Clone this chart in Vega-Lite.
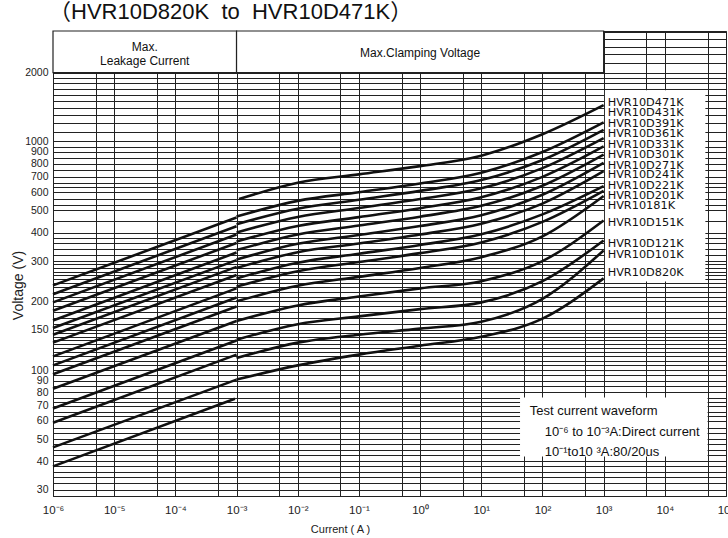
{
  "$schema": "https://vega.github.io/schema/vega-lite/v6.json",
  "width": 673,
  "height": 465,
  "autosize": {"type": "none"},
  "padding": {"left": 53, "top": 31, "right": 2, "bottom": 42},
  "background": "white",
  "title": {"text": "（HVR10D820K\u00a0\u00a0to\u00a0\u00a0HVR10D471K）", "anchor": "start", "frame": "group", "fontSize": 22, "fontWeight": "normal", "font": "Liberation Sans, Noto Sans CJK SC", "color": "#111", "offset": 3, "dx": -4},
  "config": {
    "font": "Liberation Sans",
    "view": {"stroke": "#222", "strokeWidth": 1},
    "axis": {"gridColor": "#222", "gridOpacity": 1, "gridWidth": 1, "domainColor": "#222", "ticks": false, "labelColor": "#222", "labelFont": "Liberation Sans", "labelFontSize": 11, "titleFont": "Liberation Sans", "titleFontWeight": "normal", "titleColor": "#222", "labelFlush": false, "labelBound": false, "labelOverlap": false}
  },
  "datasets": {
    "curves": [
      {"s": "L01", "I": 1e-6, "V": 38}, {"s": "L01", "I": 9.4e-4, "V": 75},
      {"s": "L02", "I": 1e-6, "V": 46}, {"s": "L02", "I": 1e-3, "V": 91},
      {"s": "L03", "I": 1e-6, "V": 59}, {"s": "L03", "I": 1e-3, "V": 117},
      {"s": "L04", "I": 1e-6, "V": 68}, {"s": "L04", "I": 1e-3, "V": 135},
      {"s": "L05", "I": 1e-6, "V": 83}, {"s": "L05", "I": 1e-3, "V": 164},
      {"s": "L06", "I": 1e-6, "V": 96}, {"s": "L06", "I": 1e-3, "V": 190},
      {"s": "L07", "I": 1e-6, "V": 105}, {"s": "L07", "I": 1e-3, "V": 208},
      {"s": "L08", "I": 1e-6, "V": 115}, {"s": "L08", "I": 1e-3, "V": 228},
      {"s": "L09", "I": 1e-6, "V": 132}, {"s": "L09", "I": 1e-3, "V": 261},
      {"s": "L10", "I": 1e-6, "V": 143}, {"s": "L10", "I": 1e-3, "V": 283},
      {"s": "L11", "I": 1e-6, "V": 153}, {"s": "L11", "I": 1e-3, "V": 303},
      {"s": "L12", "I": 1e-6, "V": 165}, {"s": "L12", "I": 1e-3, "V": 327},
      {"s": "L13", "I": 1e-6, "V": 182}, {"s": "L13", "I": 1e-3, "V": 360},
      {"s": "L14", "I": 1e-6, "V": 198}, {"s": "L14", "I": 1e-3, "V": 392},
      {"s": "L15", "I": 1e-6, "V": 215}, {"s": "L15", "I": 1e-3, "V": 426},
      {"s": "L16", "I": 1e-6, "V": 235}, {"s": "L16", "I": 1e-3, "V": 465},

      {"s": "C471", "I": 1.1e-3, "V": 560}, {"s": "C471", "I": 1e-2, "V": 660}, {"s": "C471", "I": 1e-1, "V": 718}, {"s": "C471", "I": 1, "V": 780}, {"s": "C471", "I": 10, "V": 867}, {"s": "C471", "I": 100, "V": 1076}, {"s": "C471", "I": 1000, "V": 1442},
      {"s": "C431", "I": 1e-3, "V": 470}, {"s": "C431", "I": 1e-2, "V": 550}, {"s": "C431", "I": 1e-1, "V": 600}, {"s": "C431", "I": 1, "V": 655}, {"s": "C431", "I": 10, "V": 730}, {"s": "C431", "I": 100, "V": 900}, {"s": "C431", "I": 1000, "V": 1213},
      {"s": "C391", "I": 1e-3, "V": 435}, {"s": "C391", "I": 1e-2, "V": 508}, {"s": "C391", "I": 1e-1, "V": 556}, {"s": "C391", "I": 1, "V": 608}, {"s": "C391", "I": 10, "V": 678}, {"s": "C391", "I": 100, "V": 830}, {"s": "C391", "I": 1000, "V": 1124},
      {"s": "C361", "I": 1e-3, "V": 400}, {"s": "C361", "I": 1e-2, "V": 468}, {"s": "C361", "I": 1e-1, "V": 512}, {"s": "C361", "I": 1, "V": 560}, {"s": "C361", "I": 10, "V": 624}, {"s": "C361", "I": 100, "V": 765}, {"s": "C361", "I": 1000, "V": 1035},
      {"s": "C331", "I": 1e-3, "V": 365}, {"s": "C331", "I": 1e-2, "V": 427}, {"s": "C331", "I": 1e-1, "V": 467}, {"s": "C331", "I": 1, "V": 511}, {"s": "C331", "I": 10, "V": 570}, {"s": "C331", "I": 100, "V": 700}, {"s": "C331", "I": 1000, "V": 951},
      {"s": "C301", "I": 1e-3, "V": 335}, {"s": "C301", "I": 1e-2, "V": 392}, {"s": "C301", "I": 1e-1, "V": 429}, {"s": "C301", "I": 1, "V": 469}, {"s": "C301", "I": 10, "V": 523}, {"s": "C301", "I": 100, "V": 640}, {"s": "C301", "I": 1000, "V": 875},
      {"s": "C271", "I": 1e-3, "V": 305}, {"s": "C271", "I": 1e-2, "V": 357}, {"s": "C271", "I": 1e-1, "V": 390}, {"s": "C271", "I": 1, "V": 427}, {"s": "C271", "I": 10, "V": 476}, {"s": "C271", "I": 100, "V": 585}, {"s": "C271", "I": 1000, "V": 806},
      {"s": "C241", "I": 1e-3, "V": 280}, {"s": "C241", "I": 1e-2, "V": 328}, {"s": "C241", "I": 1e-1, "V": 358}, {"s": "C241", "I": 1, "V": 392}, {"s": "C241", "I": 10, "V": 437}, {"s": "C241", "I": 100, "V": 535}, {"s": "C241", "I": 1000, "V": 741},
      {"s": "C221", "I": 1e-3, "V": 252}, {"s": "C221", "I": 1e-2, "V": 295}, {"s": "C221", "I": 1e-1, "V": 323}, {"s": "C221", "I": 1, "V": 353}, {"s": "C221", "I": 10, "V": 393}, {"s": "C221", "I": 100, "V": 480}, {"s": "C221", "I": 1000, "V": 638},
      {"s": "C201", "I": 1e-3, "V": 232}, {"s": "C201", "I": 1e-2, "V": 271}, {"s": "C201", "I": 1e-1, "V": 297}, {"s": "C201", "I": 1, "V": 325}, {"s": "C201", "I": 10, "V": 362}, {"s": "C201", "I": 100, "V": 445}, {"s": "C201", "I": 1000, "V": 608},
      {"s": "C181", "I": 1e-3, "V": 200}, {"s": "C181", "I": 1e-2, "V": 234}, {"s": "C181", "I": 1e-1, "V": 256}, {"s": "C181", "I": 1, "V": 280}, {"s": "C181", "I": 10, "V": 312}, {"s": "C181", "I": 100, "V": 385}, {"s": "C181", "I": 1000, "V": 578},
      {"s": "C151", "I": 1e-3, "V": 164}, {"s": "C151", "I": 1e-2, "V": 192}, {"s": "C151", "I": 1e-1, "V": 210}, {"s": "C151", "I": 1, "V": 228}, {"s": "C151", "I": 10, "V": 245}, {"s": "C151", "I": 100, "V": 300}, {"s": "C151", "I": 1000, "V": 451},
      {"s": "C121", "I": 1e-3, "V": 136}, {"s": "C121", "I": 1e-2, "V": 159}, {"s": "C121", "I": 1e-1, "V": 172}, {"s": "C121", "I": 1, "V": 185}, {"s": "C121", "I": 10, "V": 198}, {"s": "C121", "I": 100, "V": 245}, {"s": "C121", "I": 1000, "V": 369},
      {"s": "C101", "I": 1e-3, "V": 113}, {"s": "C101", "I": 1e-2, "V": 132}, {"s": "C101", "I": 1e-1, "V": 143}, {"s": "C101", "I": 1, "V": 152}, {"s": "C101", "I": 10, "V": 163}, {"s": "C101", "I": 100, "V": 205}, {"s": "C101", "I": 1000, "V": 334},
      {"s": "C820", "I": 1e-3, "V": 91}, {"s": "C820", "I": 1e-2, "V": 105}, {"s": "C820", "I": 1e-1, "V": 117}, {"s": "C820", "I": 1, "V": 128}, {"s": "C820", "I": 10, "V": 140}, {"s": "C820", "I": 100, "V": 168}, {"s": "C820", "I": 1000, "V": 252}
    ],
    "labels": [
      {"name": "HVR10D471K", "V": 1471}, {"name": "HVR10D431K", "V": 1331}, {"name": "HVR10D391K", "V": 1193},
      {"name": "HVR10D361K", "V": 1080}, {"name": "HVR10D331K", "V": 968}, {"name": "HVR10D301K", "V": 875},
      {"name": "HVR10D271K", "V": 785}, {"name": "HVR10D241K", "V": 711}, {"name": "HVR10D221K", "V": 637},
      {"name": "HVR10D201K", "V": 577}, {"name": "HVR10181K", "V": 521}, {"name": "HVR10D151K", "V": 440},
      {"name": "HVR10D121K", "V": 357}, {"name": "HVR10D101K", "V": 320}, {"name": "HVR10D820K", "V": 267}
    ],
    "boxes": [
      {"kind": "header", "x1": 1e-6, "x2": 1e-3, "y1": 2000, "y2": 3040},
      {"kind": "header", "x1": 1e-3, "x2": 1e3, "y1": 2000, "y2": 3040},
      {"kind": "plain", "x1": 1.05e3, "x2": 4.6e4, "y1": 244, "y2": 1675},
      {"kind": "plain", "x1": 43, "x2": 5e4, "y1": 42, "y2": 76}
    ],
    "notesCenter": [
      {"t": "Max.", "I": 3.16e-5, "V": 2594},
      {"t": "Leakage Current", "I": 3.16e-5, "V": 2259},
      {"t": "Max.Clamping Voltage", "I": 1, "V": 2443}
    ],
    "notesLeft": [
      {"t": "Test current waveform", "I": 62, "V": 66.4},
      {"t": "10⁻⁶ to 10⁻³A:Direct current", "I": 109, "V": 53.7},
      {"t": "10⁻¹to10 ³A:80/20us", "I": 109, "V": 44}
    ]
  },
  "layer": [
    {
      "data": {"name": "boxes"},
      "transform": [{"filter": "datum.kind === 'plain'"}],
      "mark": {"type": "rect", "fill": "white", "strokeWidth": 0},
      "encoding": {
        "x": {"field": "x1", "type": "quantitative", "scale": {"type": "log", "domain": [1e-6, 1e5], "nice": false},
          "axis": {"values": [1e-6,5e-6,1e-5,5e-5,1e-4,5e-4,1e-3,5e-3,1e-2,5e-2,1e-1,5e-1,1,5,10,50,100,500,1000,5000,10000,50000,100000],
            "labelExpr": "abs(datum.value / pow(10, round(log(datum.value)/LN10)) - 1) < 0.01 ? '10' + ['⁻⁶','⁻⁵','⁻⁴','⁻³','⁻²','⁻¹','⁰','¹','²','³','⁴','⁵'][round(log(datum.value)/LN10)+6] : ''",
            "title": "Current ( A )", "titleFontSize": 11, "labelPadding": 8, "titlePadding": 8, "titleX": 287, "titleAnchor": "middle", "labelFontSize": 11.5}},
        "x2": {"field": "x2"},
        "y": {"field": "y1", "type": "quantitative", "scale": {"type": "log", "domain": [28.2, 3040], "nice": false},
          "axis": {"values": [30,32,34,36,38,40,42.5,45,47.5,50,53,56,60,63,66,70,73,76,80,85,90,95,100,105,110,115,120,125,130,135,140,145,150,160,170,180,190,200,210,220,230,240,250,260,270,280,290,300,320,340,360,380,400,450,500,530,560,600,630,660,700,750,800,850,900,950,1000,1100,1200,1300,1400,1500,1600,1700,1800,1900,2000,2200,2400,2600,2800,3000],
            "labelExpr": "indexof([30,40,50,60,70,80,90,100,150,200,300,400,500,600,700,800,900,1000,2000], datum.value) >= 0 ? toString(datum.value) : ''",
            "title": "Voltage  (V)", "titleFontSize": 14, "labelPadding": 5, "titleX": -35, "titleY": 254, "titleBaseline": "middle", "titleAngle": -90, "labelFontSize": 10.5}},
        "y2": {"field": "y2"}
      }
    },
    {
      "data": {"name": "curves"},
      "mark": {"type": "line", "color": "#111", "strokeWidth": 2.6, "interpolate": "monotone"},
      "encoding": {
        "x": {"field": "I", "type": "quantitative"},
        "y": {"field": "V", "type": "quantitative"},
        "detail": {"field": "s"}
      }
    },
    {
      "data": {"name": "boxes"},
      "transform": [{"filter": "datum.kind === 'header'"}],
      "mark": {"type": "rect", "fill": "white", "stroke": "#222", "strokeWidth": 1.2},
      "encoding": {
        "x": {"field": "x1", "type": "quantitative"},
        "x2": {"field": "x2"},
        "y": {"field": "y1", "type": "quantitative"},
        "y2": {"field": "y2"}
      }
    },
    {
      "data": {"name": "labels"},
      "mark": {"type": "text", "align": "left", "baseline": "middle", "font": "DejaVu Sans", "fontSize": 11.3, "color": "#111", "dx": 4},
      "encoding": {
        "x": {"datum": 1000, "type": "quantitative"},
        "y": {"field": "V", "type": "quantitative"},
        "text": {"field": "name"}
      }
    },
    {
      "data": {"name": "notesCenter"},
      "mark": {"type": "text", "baseline": "middle", "align": "center", "fontSize": 12, "color": "#111"},
      "encoding": {
        "x": {"field": "I", "type": "quantitative"},
        "y": {"field": "V", "type": "quantitative"},
        "text": {"field": "t"}
      }
    },
    {
      "data": {"name": "notesLeft"},
      "mark": {"type": "text", "baseline": "middle", "align": "left", "fontSize": 13, "color": "#111"},
      "encoding": {
        "x": {"field": "I", "type": "quantitative"},
        "y": {"field": "V", "type": "quantitative"},
        "text": {"field": "t"}
      }
    }
  ]
}
